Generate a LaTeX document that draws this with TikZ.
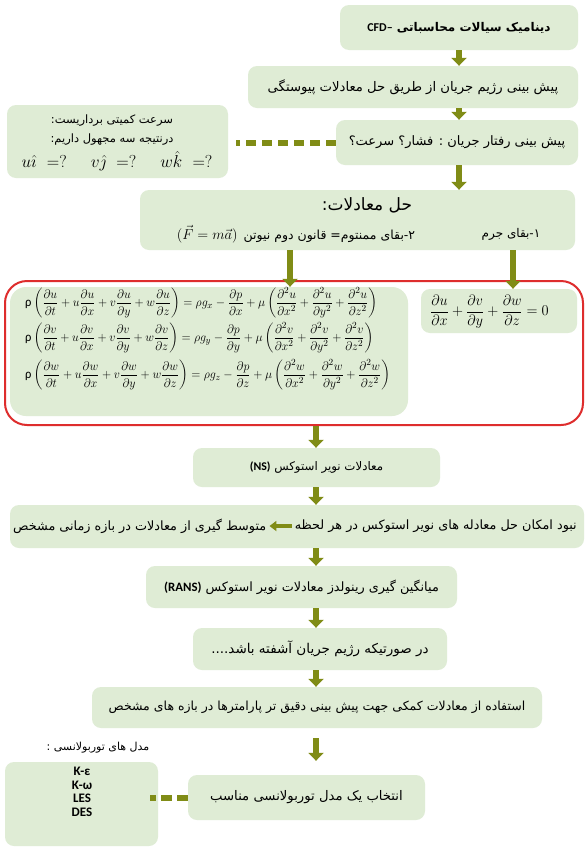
\documentclass[tikz,border=0pt]{standalone}
\usepackage{amsmath}
\usepackage{graphicx}
\usepackage{fontspec}
\usetikzlibrary{arrows.meta,calc}
\TeXXeTstate=1
\newfontfamily\fa[Script=Arabic]{DejaVu Sans}
\newfontfamily\lat{Carlito}
\definecolor{boxg}{RGB}{223,236,213}
\definecolor{oliv}{RGB}{128,140,22}
\definecolor{redf}{RGB}{222,45,45}
\newcommand\RL[1]{\beginR#1\endR}
\newcommand\LR[1]{\beginL#1\endL}
\newcommand\fs[2]{\fontsize{#1}{#2}\selectfont}
\newcommand\hb{\hbox{}}
\newcommand\tallmath[1]{\scalebox{1}[1.04]{$\displaystyle #1$}}
\tikzset{
 gbox/.style={fill=boxg, rounded corners=9pt, inner sep=0pt, draw=none},
 txt/.style={inner sep=0pt, font=\fa\fs{12.8}{15}},
 flowarr/.style={draw=oliv, line width=6pt, -{Triangle[width=15pt,length=8pt]}},
 dashcon/.style={draw=oliv, line width=6pt, dash pattern=on 10pt off 6pt},
 eqn/.style={anchor=west, inner sep=0pt, font=\fs{12.5}{15}},
}
\begin{document}
\begin{tikzpicture}[x=1pt,y=-1pt]
\fill[white] (0,0) rectangle (585,849);
\useasboundingbox (0,0) rectangle (585,849);
\coordinate (ax1) at (290,0);
\coordinate (ax2) at (513,0);
\coordinate (ax3) at (316,0);

% top chain
\node[gbox, minimum width=238pt, minimum height=45pt, font=\fa\bfseries\fs{12}{14}] (cfd) at (459,27.5)
 {\RL{دینامیک سیالات محاسباتی {\lat\LR{CFD–}}}};
\node[gbox, minimum width=330pt, minimum height=42pt, font=\fa\fs{13.2}{15}] (b2) at (413,87)
 {\RL{پیش بینی رژیم جریان از طریق حل معادلات پیوستگی}};
\node[gbox, minimum width=242pt, minimum height=45pt, font=\fa\fs{13}{15}] (b3) at (457,142.5)
 {\RL{پیش بینی رفتار جریان : فشار\hb؟ سرعت\hb؟}};
\node[gbox, minimum width=221pt, minimum height=73pt] (lb) at (117.5,141.5) {};
\node[inner sep=0pt, font=\fa\fs{11.5}{13}] (lbt1) at (112,121) {\RL{سرعت کمیتی برداریست\hb:}};
\node[inner sep=0pt, font=\fa\fs{11.5}{13}] (lbt2) at (112,140) {\RL{درنتیجه سه مجهول داریم\hb:}};
\node[inner sep=0pt, font=\fs{17}{19}] (lbt3) at (117,161)
 {$u\hat{\imath}\ \ {=}?$\hspace{24pt}$v\hat{\jmath}\ \ {=}?$\hspace{24pt}$w\hat{k}\ \ {=}?$};

% equations heading box
\node[gbox, minimum width=435pt, minimum height=60pt] (hal) at (357.5,220) {};
\node[inner sep=0pt, font=\fa\fs{17}{19}] (haltitle) at (367,205) {\RL{حل معادلات\hb:}};
\node[inner sep=0pt, font=\fa\fs{12}{14}] (m1) at (511,234) {\RL{۱\hb-\hb بقای جرم}};
\node[inner sep=0pt, font=\fa\fs{12.5}{14}] (m2) at (296,234)
 {\RL{۲\hb-\hb بقای ممنتوم\hb= قانون دوم نیوتن \LR{{\fs{15}{16}$(\vec{F}=m\vec{a})$}\,}}};

% red frame with equations
\node[draw=redf, line width=2pt, rounded corners=22pt, minimum width=578pt, minimum height=144pt, inner sep=0pt] (frame) at (294,353) {};
\node[gbox, rounded corners=16pt, minimum width=398pt, minimum height=129pt] (eqb) at (209,351.5) {};
\node[gbox, minimum width=156pt, minimum height=44pt] (cont) at (499,311) {};
\node[eqn, font=\fs{13.5}{15}] (contt) at (430,312)
 {\tallmath{\frac{\partial u}{\partial x}+\frac{\partial v}{\partial y}+\frac{\partial w}{\partial z}=0}};
\node[eqn] (e1) at (25,303) {\tallmath{\text{\lat ρ}\left(\frac{\partial u}{\partial t}+u\frac{\partial u}{\partial x}+v\frac{\partial u}{\partial y}+w\frac{\partial u}{\partial z}\right)=\rho g_x-\frac{\partial p}{\partial x}+\mu\left(\frac{\partial^2 u}{\partial x^2}+\frac{\partial^2 u}{\partial y^2}+\frac{\partial^2 u}{\partial z^2}\right)}};
\node[eqn] (e2) at (25,338) {\tallmath{\text{\lat ρ}\left(\frac{\partial v}{\partial t}+u\frac{\partial v}{\partial x}+v\frac{\partial v}{\partial y}+w\frac{\partial v}{\partial z}\right)=\rho g_y-\frac{\partial p}{\partial y}+\mu\left(\frac{\partial^2 v}{\partial x^2}+\frac{\partial^2 v}{\partial y^2}+\frac{\partial^2 v}{\partial z^2}\right)}};
\node[eqn] (e3) at (25,375) {\tallmath{\text{\lat ρ}\left(\frac{\partial w}{\partial t}+u\frac{\partial w}{\partial x}+v\frac{\partial w}{\partial y}+w\frac{\partial w}{\partial z}\right)=\rho g_z-\frac{\partial p}{\partial z}+\mu\left(\frac{\partial^2 w}{\partial x^2}+\frac{\partial^2 w}{\partial y^2}+\frac{\partial^2 w}{\partial z^2}\right)}};

% lower chain
\node[gbox, minimum width=247pt, minimum height=39pt, font=\fa\fs{11.8}{13}] (ns) at (316.5,467.5)
 {\RL{معادلات نویر استوکس {\lat\bfseries\LR{(NS)}}}};
\node[gbox, minimum width=574pt, minimum height=43pt] (lng) at (297,526.5) {};
\node[txt, anchor=east] (nab) at (577,526) {\RL{نبود امکان حل معادله های نویر استوکس در هر لحظه}};
\node[txt, anchor=west] (mot) at (13,526) {\RL{متوسط گیری از معادلات در بازه زمانی مشخص}};
\draw[draw=oliv, line width=4pt, -{Triangle[width=10pt,length=7pt]}, shorten <=3pt, shorten >=3pt] (nab.west) -- (mot.east);
\node[gbox, minimum width=311pt, minimum height=42pt, font=\fa\fs{12.8}{15}] (rans) at (301.5,587)
 {\RL{میانگین گیری رینولدز معادلات نویر استوکس {\lat\bfseries\LR{(RANS)}}}};
\node[gbox, minimum width=254pt, minimum height=42pt, font=\fa\fs{13.5}{15}] (turb) at (320,649)
 {\RL{در صورتیکه رژیم جریان آشفته باشد\hb....}};
\node[gbox, minimum width=450pt, minimum height=41pt, font=\fa\fs{12.5}{14}] (aux) at (317,707.5)
 {\RL{استفاده از معادلات کمکی جهت پیش بینی دقیق تر پارامترها در بازه های مشخص}};
\node[gbox, minimum width=237pt, minimum height=45pt, font=\fa\fs{13.2}{15}] (sel) at (306.5,797.5)
 {\RL{انتخاب یک مدل توربولانسی مناسب}};
\node[gbox, minimum width=153pt, minimum height=84pt] (mod) at (81.5,804) {};
\node[inner sep=0pt, align=center, font=\lat\bfseries\fs{13}{13.5}] (modt) at (82,792) {K-ε\\K-ω\\LES\\DES};
\node[inner sep=0pt, font=\fa\fs{11}{13}] (modl) at (98,748) {\RL{مدل های توربولانسی :}};

% connectors
\draw[flowarr] (cfd.south) -- (cfd.south |- b2.north);
\draw[flowarr] (cfd.south |- b2.south) -- (cfd.south |- b3.north);
\draw[flowarr] (cfd.south |- b3.south) -- (cfd.south |- hal.north);
\draw[flowarr] (hal.south -| ax1) -- (eqb.north -| ax1);
\draw[flowarr] (hal.south -| ax2) -- (cont.north -| ax2);
\draw[flowarr] (frame.south -| ax3) -- (ns.north -| ax3);
\draw[flowarr] (ns.south -| ax3) -- (lng.north -| ax3);
\draw[flowarr] (lng.south -| ax3) -- (rans.north -| ax3);
\draw[flowarr] (rans.south -| ax3) -- (turb.north -| ax3);
\draw[flowarr] (turb.south -| ax3) -- (aux.north -| ax3);
\draw[flowarr, shorten <=10pt, shorten >=14pt] (aux.south -| ax3) -- (sel.north -| ax3);
\draw[dashcon, shorten >=8pt] (b3.west) -- (lb.east |- b3.west);
\draw[dashcon, dash pattern=on 11pt off 5pt, shorten >=-8pt] (sel.west) -- (mod.east |- sel.west);
\end{tikzpicture}
\end{document}
